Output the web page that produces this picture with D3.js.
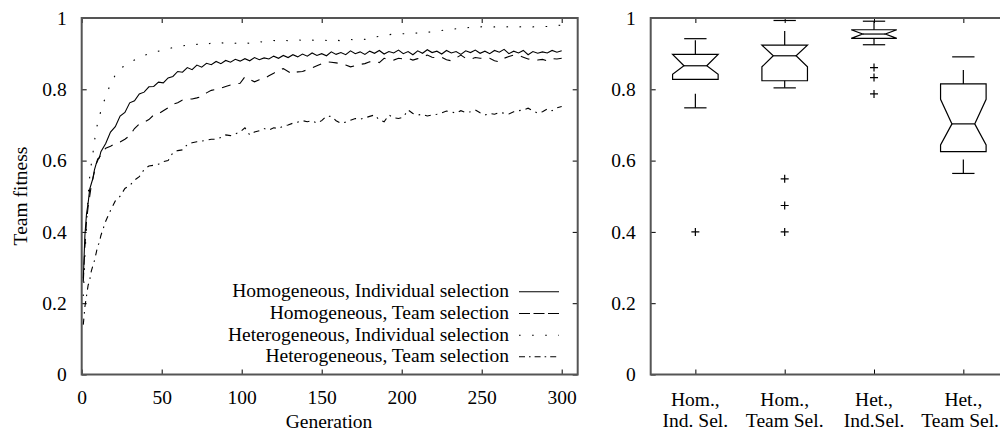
<!DOCTYPE html>
<html>
<head>
<meta charset="utf-8">
<script src="https://cdn.jsdelivr.net/npm/d3@7"></script>
<style>
  body { margin: 0; background: #fff; }
  svg { display: block; font-family: "Liberation Serif", "Times New Roman", serif; font-size: 19.5px; }
</style>
</head>
<body>
<div id="chart"></div>
<script>
// generations sampled from the run (every gen at first, then every 3rd)
var generations = [1, 2, 3, 4, 5, 6, 7, 8, 9, 10, 11, 12,
  15, 18, 21, 24, 27, 30, 33, 36, 39, 42, 45, 48,
  51, 54, 57, 60, 63, 66, 69, 72, 75, 78, 81, 84,
  87, 90, 93, 96, 99, 102, 105, 108, 111, 114, 117, 120,
  123, 126, 129, 132, 135, 138, 141, 144, 147, 150, 153, 156,
  159, 162, 165, 168, 171, 174, 177, 180, 183, 186, 189, 192,
  195, 198, 201, 204, 207, 210, 213, 216, 219, 222, 225, 228,
  231, 234, 237, 240, 243, 246, 249, 252, 255, 258, 261, 264,
  267, 270, 273, 276, 279, 282, 285, 288, 291, 294, 297, 300];

var homInd = [0.27, 0.39, 0.45, 0.48, 0.52, 0.535, 0.55, 0.575, 0.59, 0.605, 0.607, 0.625,
  0.648, 0.68, 0.695, 0.725, 0.735, 0.762, 0.768, 0.787, 0.792, 0.807, 0.808, 0.82,
  0.818, 0.832, 0.836, 0.85, 0.848, 0.861, 0.855, 0.868, 0.862, 0.873, 0.869, 0.878,
  0.872, 0.881, 0.876, 0.884, 0.879, 0.886, 0.88, 0.889, 0.883, 0.888, 0.885, 0.893,
  0.887, 0.895, 0.889, 0.897, 0.891, 0.899, 0.893, 0.902, 0.895, 0.9, 0.894, 0.905,
  0.898, 0.903, 0.897, 0.908, 0.9, 0.905, 0.898, 0.907, 0.901, 0.909, 0.899, 0.906,
  0.902, 0.91, 0.9, 0.906, 0.897, 0.908, 0.901, 0.911, 0.903, 0.907, 0.899, 0.909,
  0.902, 0.906, 0.898, 0.908, 0.903, 0.91, 0.901, 0.907, 0.9, 0.909, 0.904, 0.912,
  0.9, 0.907, 0.902, 0.909, 0.897, 0.906, 0.901, 0.905, 0.902, 0.909, 0.904, 0.908];

var homTeam = [0.26, 0.36, 0.43, 0.47, 0.5, 0.53, 0.55, 0.57, 0.59, 0.6, 0.61, 0.615,
  0.635, 0.64, 0.648, 0.652, 0.66, 0.67, 0.69, 0.703, 0.708, 0.715, 0.728, 0.731,
  0.74, 0.748, 0.758, 0.762, 0.77, 0.772, 0.773, 0.776, 0.78, 0.79, 0.797, 0.8,
  0.803, 0.808, 0.812, 0.815, 0.817, 0.835, 0.828, 0.821, 0.827, 0.83, 0.838, 0.845,
  0.854, 0.858, 0.85, 0.842, 0.849, 0.85, 0.855, 0.86, 0.866, 0.872, 0.877, 0.876,
  0.874, 0.872, 0.868, 0.863, 0.866, 0.87, 0.872, 0.877, 0.879, 0.875, 0.887, 0.884,
  0.882, 0.887, 0.885, 0.887, 0.882, 0.886, 0.891, 0.896, 0.89, 0.888, 0.89, 0.883,
  0.88, 0.888, 0.896, 0.887, 0.884, 0.889, 0.887, 0.887, 0.887, 0.88, 0.877, 0.887,
  0.892, 0.896, 0.895, 0.89, 0.885, 0.884, 0.882, 0.884, 0.88, 0.886, 0.885, 0.887];

var hetInd = [0.22, 0.33, 0.42, 0.5, 0.555, 0.59, 0.62, 0.655, 0.685, 0.705, 0.722, 0.74,
  0.78, 0.815, 0.84, 0.859, 0.866, 0.875, 0.882, 0.889, 0.895, 0.9, 0.905, 0.907,
  0.91, 0.913, 0.917, 0.92, 0.922, 0.924, 0.922, 0.926, 0.928, 0.925, 0.93, 0.928,
  0.931, 0.928, 0.93, 0.929, 0.932, 0.93, 0.929, 0.932, 0.934, 0.932, 0.935, 0.937,
  0.935, 0.938, 0.936, 0.937, 0.939, 0.937, 0.94, 0.938, 0.937, 0.939, 0.937, 0.94,
  0.938, 0.936, 0.939, 0.94, 0.938, 0.941, 0.94, 0.944, 0.946, 0.949, 0.951, 0.953,
  0.955, 0.954, 0.956, 0.955, 0.957, 0.958, 0.957, 0.96, 0.961, 0.962, 0.965, 0.967,
  0.968, 0.97, 0.969, 0.972, 0.974, 0.973, 0.975, 0.976, 0.974, 0.975, 0.976, 0.974,
  0.976, 0.977, 0.975, 0.976, 0.977, 0.975, 0.976, 0.977, 0.976, 0.978, 0.979, 0.98];

var hetTeam = [0.14, 0.19, 0.22, 0.25, 0.265, 0.29, 0.305, 0.32, 0.34, 0.36, 0.37, 0.39,
  0.43, 0.46, 0.487, 0.5, 0.522, 0.53, 0.545, 0.555, 0.575, 0.585, 0.587, 0.59,
  0.597, 0.6, 0.622, 0.628, 0.63, 0.645, 0.65, 0.653, 0.655, 0.657, 0.66, 0.66,
  0.665, 0.672, 0.67, 0.675, 0.68, 0.692, 0.672, 0.68, 0.684, 0.69, 0.686, 0.692,
  0.69, 0.697, 0.7, 0.705, 0.708, 0.712, 0.709, 0.712, 0.705, 0.712, 0.725, 0.724,
  0.712, 0.705, 0.708, 0.713, 0.718, 0.716, 0.72, 0.724, 0.728, 0.714, 0.709, 0.728,
  0.72, 0.718, 0.722, 0.742, 0.732, 0.728, 0.73, 0.725, 0.728, 0.73, 0.734, 0.739,
  0.737, 0.733, 0.74, 0.735, 0.737, 0.742, 0.734, 0.728, 0.732, 0.73, 0.735, 0.733,
  0.731, 0.737, 0.74, 0.742, 0.747, 0.74, 0.733, 0.737, 0.745, 0.74, 0.748, 0.752];

var seriesNames = ["Homogeneous, Individual selection", "Homogeneous, Team selection",
  "Heterogeneous, Individual selection", "Heterogeneous, Team selection"];
// dash on the curves vs in the legend key (the curves are jagged, so gaps look longer there)
var curveDash = ["none", "9,8", "1.6,11.5", "6,5,1.6,5"];
var keyDash = ["none", "11,3.5", "1.6,11.5", "6,4,1.6,4"];

var xTicks = [0, 50, 100, 150, 200, 250, 300];
var yTicks = [0, 0.2, 0.4, 0.6, 0.8, 1];

// box plot (notched) of final team fitness
var boxLabels = [["Hom.,", "Ind. Sel."], ["Hom.,", "Team Sel."], ["Het.,", "Ind.Sel."], ["Het.,", "Team Sel."]];
var boxMin = [0.748, 0.804, 0.925, 0.564];
var boxQ1 = [0.828, 0.824, 0.943, 0.625];
var boxNotchLo = [0.842, 0.863, 0.943, 0.644];
var boxMedian = [0.866, 0.894, 0.955, 0.703];
var boxNotchHi = [0.898, 0.924, 0.967, 0.772];
var boxQ3 = [0.898, 0.924, 0.967, 0.815];
var boxMax = [0.942, 0.993, 0.991, 0.891];
var boxOutliers = [[0.40], [0.549, 0.474, 0.40], [0.861, 0.833, 0.787], []];

var width = 1000, height = 435;
var svg = d3.select("#chart").append("svg").attr("width", width).attr("height", height);

var top_ = 18, bottom = 374.5;
var axisColor = "#555";
var fontFam = "'Liberation Serif', 'Times New Roman', serif";

/*************    LEFT: LINE CHART   *************/
var x = d3.scaleLinear().domain([0, 310]).range([81.7, 577.7]);
var y = d3.scaleLinear().domain([0, 1]).range([bottom, top_]);

var left = svg.append("g").attr("class", "lineChart");

function styleAxis(g) {
  g.attr("font-family", fontFam).attr("font-size", 19.5);
  g.select(".domain").remove();
  g.selectAll(".tick line").attr("stroke", "#000");
  g.selectAll(".tick text").attr("fill", "#000");
}

left.append("g").attr("transform", `translate(0, ${bottom})`)
  .call(d3.axisBottom(x).tickValues(xTicks).tickSize(-5).tickPadding(16))
  .call(styleAxis);
left.append("g").attr("transform", `translate(0, ${top_})`)
  .call(d3.axisTop(x).tickValues(xTicks).tickSize(-5).tickFormat(""))
  .call(styleAxis);
left.append("g").attr("transform", `translate(${x.range()[0]}, 0)`)
  .call(d3.axisLeft(y).tickValues(yTicks).tickSize(-5).tickPadding(15).tickFormat((d) => d))
  .call(styleAxis);
left.append("g").attr("transform", `translate(${x.range()[1]}, 0)`)
  .call(d3.axisRight(y).tickValues(yTicks).tickSize(-5).tickFormat(""))
  .call(styleAxis);

left.append("rect")
  .attr("x", x.range()[0]).attr("y", top_)
  .attr("width", x.range()[1] - x.range()[0]).attr("height", bottom - top_)
  .attr("fill", "none").attr("stroke", axisColor).attr("stroke-width", 2);

var allSeries = [homInd, homTeam, hetInd, hetTeam];
var line = d3.line().x((d, i) => x(generations[i])).y((d) => y(d));

left.selectAll("path.series")
  .data(allSeries)
  .join("path")
  .attr("class", "series")
  .attr("fill", "none")
  .attr("stroke", "#000")
  .attr("stroke-width", 1.1)
  .attr("stroke-dasharray", (d, i) => curveDash[i])
  .attr("d", line);

// legend
var legendBase = [297.3, 319, 340.7, 362.3];
var legend = left.append("g").attr("class", "legend");
seriesNames.forEach(function (name, i) {
  legend.append("text")
    .attr("x", 509).attr("y", legendBase[i])
    .attr("text-anchor", "end")
    .text(name);
  legend.append("line")
    .attr("x1", 519).attr("x2", 559)
    .attr("y1", legendBase[i] - 5.5).attr("y2", legendBase[i] - 5.5)
    .attr("stroke", "#000").attr("stroke-width", 1.1)
    .attr("stroke-dasharray", keyDash[i]);
});

left.append("text")
  .attr("x", 329).attr("y", 428)
  .attr("text-anchor", "middle")
  .text("Generation");

left.append("text")
  .attr("transform", "translate(26.5, 196) rotate(-90)")
  .attr("text-anchor", "middle")
  .text("Team fitness");

/*************    RIGHT: BOX PLOT   *************/
var bx = d3.scaleLinear().domain([0.5, 4.5]).range([650.7, 1008]);
var by = y;
var right = svg.append("g").attr("class", "boxChart");
var cats = [1, 2, 3, 4];

right.append("g").attr("transform", `translate(0, ${bottom})`)
  .call(d3.axisBottom(bx).tickValues(cats).tickSize(-5).tickFormat(""))
  .call(styleAxis);
right.append("g").attr("transform", `translate(0, ${top_})`)
  .call(d3.axisTop(bx).tickValues(cats).tickSize(-5).tickFormat(""))
  .call(styleAxis);
right.append("g").attr("transform", `translate(${bx.range()[0]}, 0)`)
  .call(d3.axisLeft(by).tickValues(yTicks).tickSize(-5).tickPadding(15).tickFormat((d) => d))
  .call(styleAxis);

right.append("rect")
  .attr("x", bx.range()[0]).attr("y", top_)
  .attr("width", bx.range()[1] - bx.range()[0]).attr("height", bottom - top_)
  .attr("fill", "none").attr("stroke", axisColor).attr("stroke-width", 2);

cats.forEach(function (c, i) {
  [405.5, 427].forEach(function (yy, k) {
    var t = right.append("text")
      .attr("x", bx(c)).attr("y", yy)
      .attr("text-anchor", "middle")
      .text(boxLabels[i][k]);
    // keep the last label inside the picture (the plot runs off the right edge)
    var bb = t.node().getBBox();
    if (bb.x + bb.width > width - 1) {
      t.attr("x", bx(c) - (bb.x + bb.width - (width - 1)));
    }
  });
});

var boxW = 0.51, capW = 0.25;
cats.forEach(function (c, i) {
  var g = right.append("g");
  var xl = bx(c - boxW / 2), xr = bx(c + boxW / 2), cx = bx(c);
  var n = (xr - xl) * 0.25;
  var p = d3.path();
  p.moveTo(xl, by(boxQ3[i]));
  p.lineTo(xr, by(boxQ3[i]));
  p.lineTo(xr, by(boxNotchHi[i]));
  p.lineTo(xr - n, by(boxMedian[i]));
  p.lineTo(xr, by(boxNotchLo[i]));
  p.lineTo(xr, by(boxQ1[i]));
  p.lineTo(xl, by(boxQ1[i]));
  p.lineTo(xl, by(boxNotchLo[i]));
  p.lineTo(xl + n, by(boxMedian[i]));
  p.lineTo(xl, by(boxNotchHi[i]));
  p.closePath();
  g.append("path").attr("d", p.toString())
    .attr("fill", "none").attr("stroke", "#000").attr("stroke-width", 1.2);
  g.append("line")
    .attr("x1", xl + n).attr("x2", xr - n)
    .attr("y1", by(boxMedian[i])).attr("y2", by(boxMedian[i]))
    .attr("stroke", "#000").attr("stroke-width", 1.2);
  // whiskers drawn from the lower end upward, dashed like gnuplot
  [[boxMin[i], boxQ1[i]], [boxQ3[i], boxMax[i]]].forEach(function (w) {
    g.append("line")
      .attr("x1", cx).attr("x2", cx)
      .attr("y1", by(w[0])).attr("y2", by(w[1]))
      .attr("stroke", "#000").attr("stroke-width", 1.2)
      .attr("stroke-dasharray", "14,14");
  });
  [boxMin[i], boxMax[i]].forEach(function (v) {
    g.append("line")
      .attr("x1", bx(c - capW / 2)).attr("x2", bx(c + capW / 2))
      .attr("y1", by(v)).attr("y2", by(v))
      .attr("stroke", "#000").attr("stroke-width", 1.2);
  });
  boxOutliers[i].forEach(function (v) {
    g.append("path")
      .attr("d", `M${cx - 4},${by(v)}H${cx + 4}M${cx},${by(v) - 4}V${by(v) + 4}`)
      .attr("stroke", "#000").attr("stroke-width", 1.2);
  });
});
</script>
</body>
</html>
